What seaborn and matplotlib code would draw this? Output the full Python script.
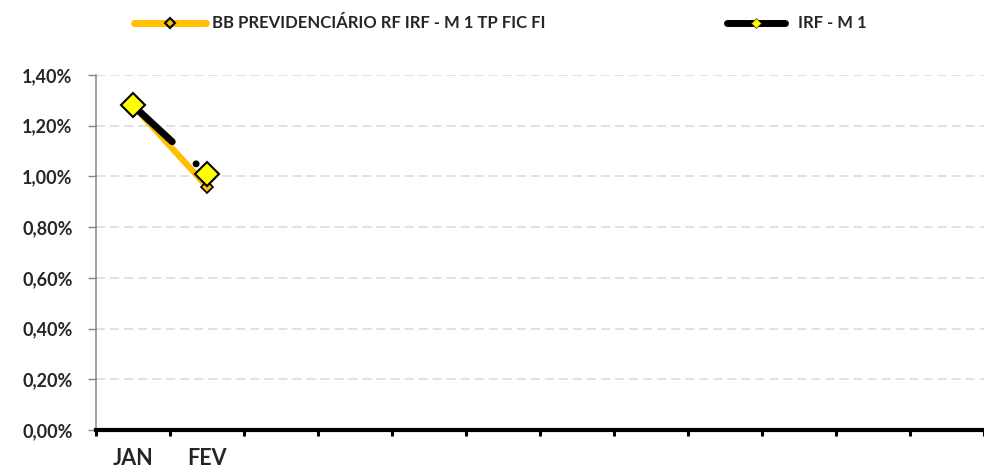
import numpy as np
import pandas as pd
import matplotlib as mpl
import matplotlib.pyplot as plt
from matplotlib.lines import Line2D
from matplotlib.ticker import FuncFormatter, FixedLocator
import seaborn as sns

# dados (em %)
meses = ["JAN", "FEV", "MAR", "ABR", "MAI", "JUN", "JUL", "AGO", "SET", "OUT", "NOV", "DEZ"]
rotulos = ["JAN", "FEV"] + [""] * 10
bb_prev = [1.28, 0.96] + [np.nan] * 10
irf_m1 = [1.28, 1.01] + [np.nan] * 10
nome_bb = "BB PREVIDENCIÁRIO RF IRF - M 1 TP FIC FI"
nome_irf = "IRF - M 1"

df = pd.DataFrame({"pos": np.arange(len(meses)), "mes": meses, "bb": bb_prev, "irf": irf_m1})

sns.set_style("white")
plt.rcParams['font.family'] = ['Lato', 'DejaVu Sans']
plt.rcParams['font.weight'] = 'bold'
plt.rcParams['lines.scale_dashes'] = False

amarelo = "#FFC000"

fig = plt.figure(figsize=(9.84, 4.70), dpi=100)
ax = fig.add_axes([96 / 984, 40 / 470, 888 / 984, 355 / 470])

sns.lineplot(data=df, x="pos", y="bb", ax=ax, color=amarelo, linewidth=4.5,
             marker="D", markersize=6, markerfacecolor=amarelo,
             markeredgecolor="black", markeredgewidth=1.2, zorder=3)
sns.lineplot(data=df, x="pos", y="irf", ax=ax, color="black", linewidth=5,
             marker="D", markersize=12, markerfacecolor="#FFFF00",
             markeredgecolor="black", markeredgewidth=1.5, zorder=4)
linha_irf = ax.lines[-1]
linha_irf.set_dashes([38.5, 23.4, 0.01, 40])
linha_irf.set_dash_capstyle("round")

ax.set_xlim(-0.5, 11.5)
ax.set_ylim(0, 1.4)
ax.set_xlabel("")
ax.set_ylabel("")

ax.yaxis.set_major_locator(FixedLocator(np.arange(0, 1.41, 0.2)))
ax.yaxis.set_major_formatter(FuncFormatter(lambda v, p: f"{v:.2f}%".replace(".", ",")))
ax.grid(axis="y", color="#d9d9d9", linewidth=1.1, linestyle=(0, (6.5, 3.6)))
ax.grid(axis="x", visible=False)

ax.set_xticks(range(len(meses)))
ax.set_xticklabels(rotulos)
ax.set_xticks(np.arange(-0.5, 12, 1), minor=True)
ax.tick_params(axis="x", which="major", bottom=True, length=0, pad=13, labelsize=15.5)
ax.tick_params(axis="x", which="minor", bottom=True, length=4.5, width=2.2,
               color="black", direction="out")
ax.tick_params(axis="y", left=True, length=5.8, width=1, color="#868686",
               direction="out", pad=11, labelsize=13)

for s in ["top", "right"]:
    ax.spines[s].set_visible(False)
ax.spines["left"].set_color("#868686")
ax.spines["left"].set_linewidth(1.1)
ax.spines["bottom"].set_color("black")
ax.spines["bottom"].set_linewidth(3)
ax.spines["bottom"].set_zorder(5)

h_bb = Line2D([], [], color=amarelo, linewidth=5, marker="D", markersize=5.5,
              markerfacecolor=amarelo, markeredgecolor="black", markeredgewidth=1.5,
              solid_capstyle="round")
h_irf = Line2D([], [], color="black", linewidth=5, marker="D", markersize=5,
               markerfacecolor="#FFFF00", markeredgecolor="#333300", markeredgewidth=0.5,
               solid_capstyle="round")
y_leg = 1 - 23.5 / 470
fig.legend([h_bb], [nome_bb], loc="center left", bbox_to_anchor=(134 / 984, y_leg),
           frameon=False, borderpad=0, borderaxespad=0, handlelength=4.3,
           handletextpad=0.35, prop={"weight": "bold", "size": 12})
fig.legend([h_irf], [nome_irf], loc="center left", bbox_to_anchor=(727 / 984, y_leg),
           frameon=False, borderpad=0, borderaxespad=0, handlelength=3.5,
           handletextpad=0.75, prop={"weight": "bold", "size": 12})

fig.savefig("out.png", dpi=100)
